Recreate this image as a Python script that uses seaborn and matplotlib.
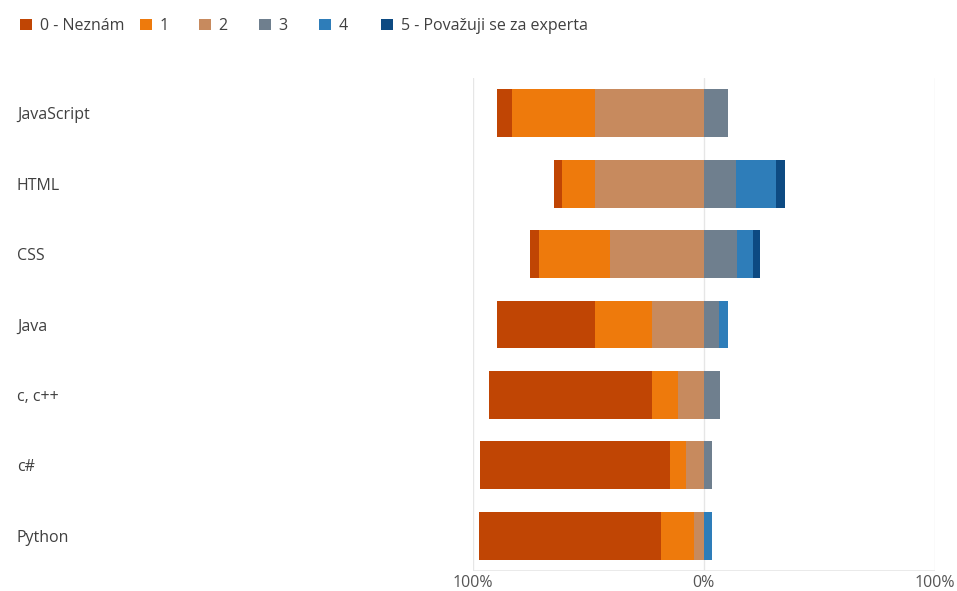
import numpy as np
import pandas as pd
import matplotlib
matplotlib.use("Agg")
import matplotlib.pyplot as plt
import matplotlib.transforms as mtrans
from matplotlib.patches import Patch
import seaborn as sns

# shares of answers per language (percent)
langs = ["JavaScript", "HTML", "CSS", "Java", "c, c++", "c#", "Python"]
lvl0 = [6.6, 3.6, 4.0, 42.5, 70.7, 81.9, 78.6]
lvl1 = [35.9, 14.4, 30.8, 24.7, 11.2, 6.9, 14.4]
lvl2 = [47.0, 47.0, 40.6, 22.3, 11.1, 7.9, 4.3]
lvl3 = [10.5, 14.1, 14.4, 6.5, 6.8, 3.6, 0.0]
lvl4 = [0.0, 17.1, 6.9, 4.0, 0.0, 0.0, 3.6]
lvl5 = [0.0, 4.1, 3.2, 0.0, 0.0, 0.0, 0.0]
legend_labels = ["0 - Neznám", "1", "2", "3", "4", "5 - Považuji se za experta"]
colors = ["#C04504", "#EE7A0C", "#C78A5E", "#6F7F8E", "#2E7DB9", "#0D4A82"]

sns.set_theme(style="white")
plt.rcParams["font.family"] = ["Open Sans", "DejaVu Sans"]

df = pd.DataFrame({"lang": langs, "l0": lvl0, "l1": lvl1, "l2": lvl2,
                   "l3": lvl3, "l4": lvl4, "l5": lvl5})

fig = plt.figure(figsize=(9.57, 5.91), dpi=100)
ax = fig.add_axes([0.494, 0.034, 0.483, 0.834])

# left side: levels 0-2 stacked towards the left, drawn outermost first
left0 = -(df.l0 + df.l1 + df.l2)
left1 = -(df.l1 + df.l2)
left2 = -df.l2
right5 = df.l3 + df.l4 + df.l5
right4 = df.l3 + df.l4
right3 = df.l3

for vals, col in [(left0, colors[0]), (left1, colors[1]), (left2, colors[2]),
                  (right5, colors[5]), (right4, colors[4]), (right3, colors[3])]:
    sns.barplot(x=vals, y=df.lang, color=col, orient="h", width=0.68,
                saturation=1, ax=ax, linewidth=0)

ax.set_xlim(-100, 100)
ax.set_ylim(6.5, -0.5)
ax.set_xticks([-100, 0, 100])
ax.set_xticklabels(["100%", "0%", "100%"], color="#555555", fontsize=11.5)
for x in [-100, 0, 100]:
    ax.axvline(x, color="#E6E6E6", lw=1, zorder=0)
ax.axhline(6.5, color="#E6E6E6", lw=1.2, zorder=0)
for s in ax.spines.values():
    s.set_visible(False)
ax.tick_params(axis="x", length=0, pad=3)
ax.set_yticks([])
ax.set_xlabel("")
ax.set_ylabel("")

tr = mtrans.blended_transform_factory(fig.transFigure, ax.transData)
for i, name in enumerate(langs):
    ax.text(17 / 957, i + 0.03, name, transform=tr, ha="left", va="center",
            fontsize=11.5, color="#404040")

# legend: one entry per slot so the spacing follows the original
leg_x = [6, 126, 185, 245, 305, 367]
for c, lab, x in zip(colors, legend_labels, leg_x):
    fig.legend([Patch(facecolor=c, edgecolor="none")], [lab], loc="center left",
               bbox_to_anchor=(x / 957, 1 - 26 / 591), frameon=False, fontsize=11.5,
               handlelength=0.75, handleheight=0.75, handletextpad=0.45,
               labelcolor="#404040")

fig.savefig("out.png", dpi=100)
